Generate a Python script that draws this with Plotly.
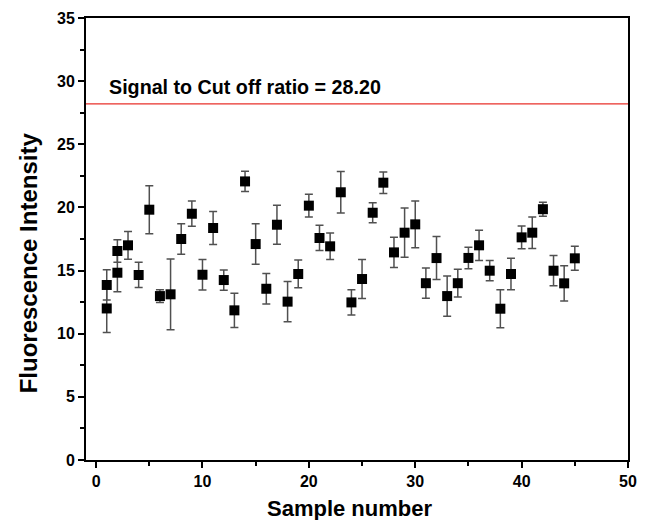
import plotly

# 样本数据
sample_number = [1, 1, 2, 2, 3, 4, 5, 6, 7, 8, 9, 10, 11, 12, 13, 14, 15, 16, 17, 18, 19, 20,
                 21, 22, 23, 24, 25, 26, 27, 28, 29, 30, 31, 32, 33, 34, 35, 36, 37, 38, 39, 40,
                 41, 42, 43, 44, 45]
fluorescence = [13.86, 12.0, 16.55, 14.83, 17.0, 14.65, 19.82, 12.98, 13.12, 17.5, 19.5, 14.67,
                18.37, 14.25, 11.85, 22.06, 17.1, 13.56, 18.63, 12.54, 14.73, 20.14, 17.58, 16.92,
                21.2, 12.48, 14.33, 19.58, 21.96, 16.44, 18.0, 18.66, 14.0, 15.99, 12.98, 14.0,
                16.0, 17.0, 14.99, 11.98, 14.73, 17.63, 18.0, 19.86, 14.99, 13.99, 15.97]
fluorescence_err = [1.2, 1.9, 0.9, 1.5, 1.1, 1.0, 1.9, 0.5, 2.8, 1.2, 1.0, 1.2, 1.3, 0.8, 1.35,
                    0.8, 1.6, 1.2, 1.55, 1.6, 1.1, 0.9, 1.0, 1.05, 1.65, 1.0, 1.55, 0.8, 0.85, 1.2,
                    1.95, 1.85, 1.2, 1.7, 1.6, 1.1, 0.85, 1.2, 0.8, 1.5, 1.25, 0.9, 1.25, 0.55, 1.2,
                    1.4, 0.95]
cutoff_ratio = 28.20
cutoff_label = "Signal to Cut off ratio = 28.20"

FONT = "Liberation Sans, Arial, sans-serif"


def draw_scatter_graph():
    # 散点 + 误差棒
    trace_1 = plotly.graph_objs.Scatter(
        x=sample_number,
        y=fluorescence,
        mode="markers",
        marker=dict(symbol="square", size=10, color="black"),
        error_y=dict(type="data", array=fluorescence_err, visible=True,
                     color="#505050", thickness=1.5, width=4),
        showlegend=False
    )

    axis_common = dict(
        showline=True, linecolor="black", linewidth=2, mirror=True,
        ticks="outside", ticklen=6, tickwidth=1.5, tickcolor="black",
        showgrid=False, zeroline=False, automargin=False,
        tickfont=dict(family=FONT, size=16, color="black", weight="bold"),
    )

    # 坐标轴标题用注释来摆，位置好控制
    titles = [
        dict(text="Sample number", x=0.487, y=-0.1086, xref="paper", yref="paper",
             showarrow=False, xanchor="center", yanchor="middle",
             font=dict(family=FONT, size=22, color="black", weight="bold")),
        dict(text="Fluorescence Intensity", x=-0.107, y=0.445, xref="paper", yref="paper",
             showarrow=False, xanchor="center", yanchor="middle", textangle=-90,
             font=dict(family=FONT, size=24, color="black", weight="bold")),
        dict(x=1.0, y=cutoff_ratio, xref="x", yref="y", text=cutoff_label,
             showarrow=False, xanchor="left", yanchor="bottom", yshift=4,
             font=dict(family=FONT, size=19.7, color="black", weight="bold")),
    ]

    # 页面 body 自带 8px 边距，这里扣掉
    layout = plotly.graph_objs.Layout(
        width=638, height=512,
        margin=dict(l=78, r=18, t=10, b=60),
        paper_bgcolor="white", plot_bgcolor="white",
        xaxis=dict(
            range=[-0.95, 50], tickvals=[0, 10, 20, 30, 40, 50],
            minor=dict(dtick=5, tick0=0, ticks="outside", ticklen=4, tickcolor="black", showgrid=False),
            **axis_common
        ),
        yaxis=dict(
            range=[0, 35], tickvals=[0, 5, 10, 15, 20, 25, 30, 35],
            minor=dict(dtick=2.5, tick0=0, ticks="outside", ticklen=4, tickcolor="black", showgrid=False),
            **axis_common
        ),
        # 红色截断线
        shapes=[dict(type="line", xref="paper", x0=0, x1=1, yref="y", y0=cutoff_ratio, y1=cutoff_ratio,
                     line=dict(color="#e8302a", width=1.2))],
        annotations=titles
    )

    figure = plotly.graph_objs.Figure(data=[trace_1], layout=layout)
    figure.write_html("out.html")


if __name__ == "__main__":
    draw_scatter_graph()
